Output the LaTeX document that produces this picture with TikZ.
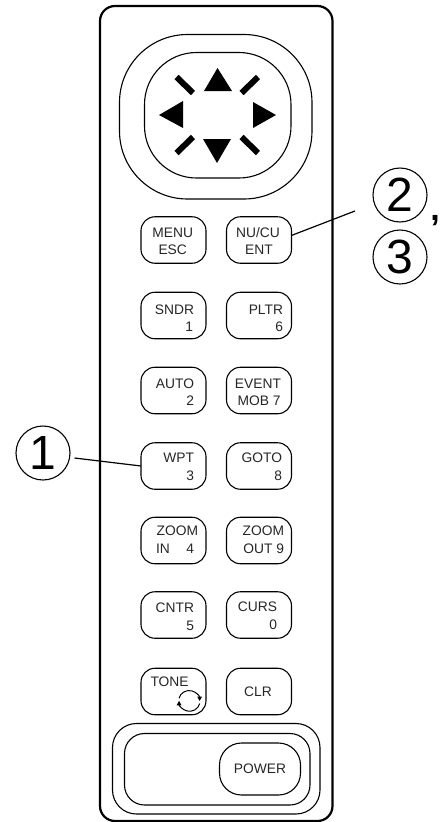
\documentclass[tikz,border=0pt]{standalone}
\usepackage{fontspec}
\setmainfont{Liberation Sans}
\usetikzlibrary{arrows.meta}
\tikzset{
  thinline/.style={draw=black,line width=1.1pt},
  key/.style={thinline,rectangle,rounded corners=14pt,minimum width=65pt,minimum height=46.5pt,inner sep=0pt,outer sep=0pt},
  lab/.style={inner sep=0pt,outer sep=0pt,font=\fontsize{13.8}{14}\selectfont,text=black!85},
  labc/.style={lab,anchor=base},
  labr/.style={lab,anchor=base east},
  labl/.style={lab,anchor=base west},
  callout/.style={thinline,circle,minimum size=54pt,inner sep=0pt,outer sep=0pt,font=\fontsize{48}{48}\selectfont},
  arrowtri/.style={fill=black,draw=none},
  tick/.style={draw=black,line width=6pt},
  leader/.style={draw=black,line width=1.2pt},
}
\begin{document}
\begin{tikzpicture}[x=1pt,y=-1pt]
\useasboundingbox (0,0) rectangle (445,822);
% body
\draw[line width=2.2pt,rounded corners=15pt] (100,6) rectangle (332.5,821);
% rocker
\draw[thinline,rounded corners=68pt] (119.5,34.5) rectangle (312,199);
\draw[thinline,rounded corners=52pt] (144.5,52.5) rectangle (291,178);
\fill[arrowtri] (217.5,68) -- (204,91) -- (232,91) -- cycle;
\fill[arrowtri] (203,139) -- (231,139) -- (217,163) -- cycle;
\fill[arrowtri] (159,115) -- (183,101) -- (183,128) -- cycle;
\fill[arrowtri] (276,115) -- (253,102) -- (253,128) -- cycle;
\draw[tick] (176.5,77) -- (193,93);
\draw[tick] (258,77) -- (241.5,93);
\draw[tick] (176.5,153) -- (193,137);
\draw[tick] (258,153) -- (241.5,137);
% keys
\node[key] (menu) at (173.5,240) {};
\node[key] (nucu) at (259,240) {};
\node[key] (sndr) at (173.5,315.5) {};
\node[key] (pltr) at (259,315.5) {};
\node[key] (auto) at (173.5,390.5) {};
\node[key] (event) at (259,390.5) {};
\node[key] (wpt) at (173.5,466) {};
\node[key] (goto) at (259,466) {};
\node[key] (zin) at (173.5,540.5) {};
\node[key] (zout) at (259,540.5) {};
\node[key] (cntr) at (173.5,615) {};
\node[key] (curs) at (259,615) {};
\node[key] (tone) at (173.5,691.5) {};
\node[key] (clr) at (259,691.5) {};
% key labels
\node[labc] (t1) at (172.7,237) {MENU};
\node[labc] (t2) at (172.7,254) {ESC};
\node[labc] (t3) at (258,237) {NU/CU};
\node[labc] (t4) at (259,254) {ENT};
\node[labr] (t5) at (194,314) {SNDR};
\node[labr] (t6) at (193,331) {1};
\node[labr] (t7) at (283,314) {PLTR};
\node[labr] (t8) at (283,331) {6};
\node[labr] (t9) at (194,388) {AUTO};
\node[labr] (t10) at (194,405) {2};
\node[labc] (t11) at (258,388) {EVENT};
\node[labc] (t12) at (259,405) {MOB 7};
\node[labr] (t13) at (194,462) {WPT};
\node[labr] (t14) at (194,480) {3};
\node[labr] (t15) at (282,462) {GOTO};
\node[labr] (t16) at (282,480) {8};
\node[labr] (t17) at (198,535) {ZOOM};
\node[labl] (t18) at (156,553) {IN};
\node[labr] (t19) at (194,553) {4};
\node[labr] (t20) at (284,535) {ZOOM};
\node[labr] (t21) at (284,553) {OUT 9};
\node[labr] (t22) at (194,612) {CNTR};
\node[labr] (t23) at (194,630) {5};
\node[labr] (t24) at (277,611) {CURS};
\node[labr] (t25) at (277,629) {0};
\node[labl] (t26) at (150.5,686) {TONE};
\node[labc] (t27) at (258,696) {CLR};
% tone icon
\draw[line width=1pt,-{Triangle[length=4.5pt,width=4.5pt]}] (179,698.3) arc[start angle=-165,end angle=0,radius=10.5];
\draw[line width=1pt,-{Triangle[length=4.5pt,width=4.5pt]}] (199.7,703.5) arc[start angle=15,end angle=180,radius=10.5];
% power
\draw[thinline,rounded corners=24pt] (112.5,723.5) rectangle (320,814);
\draw[thinline,rounded corners=20pt] (124.5,733.5) rectangle (310,805);
\node[key,minimum width=81pt,minimum height=52pt,rounded corners=22pt] (power) at (260,769) {};
\node[labc] (t28) at (260,773) {POWER};
% callouts
\node[callout] (c1) at (43,453) {1};
\node[callout] (c2) at (400,195) {2};
\node[callout] (c3) at (400,257) {3};
\node[inner sep=0pt,anchor=base,font=\bfseries\fontsize{34}{34}\selectfont] (comma) at (435,220) {,};
\coordinate (e1) at (74.5,458);
\coordinate (e2) at (355,211);
\draw[leader] (e1) -- (wpt.west);
\draw[leader] (nucu.8) -- (e2);
\end{tikzpicture}
\end{document}
